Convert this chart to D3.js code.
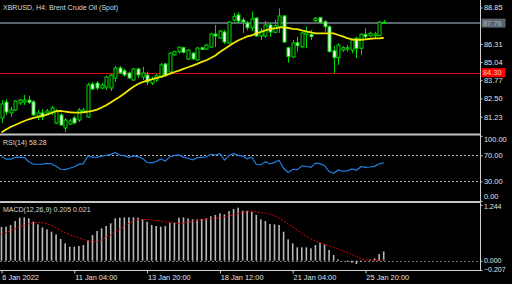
<!DOCTYPE html>
<html><head><meta charset="utf-8">
<script src="https://cdn.jsdelivr.net/npm/d3@7"></script>
<style>body{margin:0;background:#000;} svg{display:block;} text{font-family:"Liberation Sans",Arial,sans-serif;}</style>
</head><body>
<svg id="c" width="512" height="284"></svg>
<script>
// ---- data ----
const opens=[81.14,82.25,81.49,81.70,82.19,82.25,82.39,82.27,81.28,81.49,81.49,81.56,80.79,81.35,80.44,80.72,81.14,81.00,81.56,81.21,83.51,83.58,83.23,83.30,83.23,83.93,84.63,84.44,84.28,83.79,84.56,84.00,84.14,83.58,83.79,84.00,84.91,84.35,85.54,85.77,86.04,85.26,85.67,85.19,86.04,85.95,86.09,87.00,86.72,87.14,86.37,87.98,88.33,87.98,87.77,87.44,88.12,86.86,86.86,87.63,87.12,87.51,88.26,86.04,85.40,86.39,86.11,86.98,86.98,87.93,88.14,87.86,87.51,85.84,85.35,85.88,85.95,85.88,86.70,86.00,86.98,86.88,86.88,86.88,87.82];
const highs=[82.39,82.46,81.91,82.39,82.46,82.74,82.69,82.39,81.70,81.77,81.77,81.98,81.77,81.49,81.14,81.07,81.28,81.84,81.84,83.58,83.65,83.72,83.58,84.09,84.21,84.77,84.77,84.56,84.37,84.65,84.65,84.72,84.37,84.02,84.21,84.98,84.98,85.70,85.84,86.11,86.11,85.95,85.74,86.11,86.09,86.30,87.07,87.63,87.28,87.28,87.91,88.47,88.51,88.14,87.91,88.56,88.14,87.42,87.91,87.77,87.98,88.79,88.33,86.11,86.58,86.81,87.16,87.51,87.28,88.19,88.19,87.98,87.63,86.18,86.35,86.16,86.23,86.70,86.81,87.05,87.40,87.16,87.16,87.91,87.98];
const lows=[80.79,81.35,81.21,81.63,82.05,82.05,82.12,81.28,81.00,81.00,81.35,81.35,80.72,80.58,80.18,80.65,80.72,80.86,81.49,81.14,83.09,83.09,83.16,83.09,83.02,83.65,84.21,84.02,83.86,83.72,83.93,83.79,83.44,83.44,83.65,83.93,84.02,84.28,85.49,85.65,85.65,85.19,85.19,85.12,85.88,85.88,86.02,86.09,86.65,86.30,86.30,87.86,87.75,87.07,87.28,87.21,86.81,86.58,86.72,86.79,87.07,87.07,86.37,85.00,85.33,85.77,86.00,86.00,86.58,87.84,87.73,87.16,85.71,84.26,84.84,85.74,85.77,85.65,85.31,85.54,86.58,86.81,86.70,86.86,87.72];
const closes=[82.12,81.56,81.70,82.32,82.39,82.39,82.23,81.35,81.49,81.21,81.63,81.84,81.63,80.65,81.00,80.93,80.79,81.70,81.70,83.44,83.16,83.23,83.44,84.00,84.14,84.63,84.28,84.14,83.93,84.56,84.14,84.28,83.65,83.86,84.09,84.84,84.09,85.67,85.77,86.09,85.72,85.88,85.26,86.02,85.93,86.23,87.00,86.86,87.21,86.44,87.84,88.21,87.91,87.84,87.44,88.05,86.86,87.21,87.63,87.14,87.58,88.26,86.44,85.42,86.37,86.18,87.07,87.14,86.81,88.10,87.79,87.51,85.77,85.35,86.23,86.04,86.04,86.58,86.00,86.98,86.81,87.05,87.00,87.82,87.76];
const maValues=[80.13,80.34,80.51,80.65,80.79,80.93,81.05,81.14,81.21,81.29,81.38,81.49,81.61,81.63,81.59,81.54,81.52,81.52,81.54,81.59,81.63,81.73,81.87,82.03,82.22,82.43,82.62,82.85,83.09,83.32,83.51,83.65,83.74,83.83,83.93,84.01,84.12,84.22,84.35,84.45,84.57,84.68,84.80,84.92,85.05,85.17,85.33,85.50,85.74,85.95,86.16,86.37,86.55,86.69,86.83,86.90,87.04,87.14,87.25,87.34,87.40,87.45,87.48,87.42,87.36,87.34,87.25,87.18,87.11,87.05,87.05,87.05,87.05,87.04,86.93,86.83,86.72,86.62,86.60,86.60,86.63,86.67,86.69,86.70,86.74];
const rsiValues=[68,64,64.2,66.5,67.2,66.4,60,56.2,56.2,56.5,57.5,57,53,48.5,48,50,52.3,56,57.2,69,66.9,67.2,68.5,70,71.5,74,70.5,69.5,67,69,68,65,59,58.5,60.5,64.5,61.3,67.5,69.8,70.5,67.2,65.5,63,66.4,66.9,67.4,71.5,70.5,72.6,62.5,69.5,73,70,68.7,64.5,67,56.2,55.6,60.3,56.7,59.2,62.5,50,43.5,48.5,48,53.5,53.1,51.5,58,57.2,54,45,42.3,47.4,45.5,45.9,49,46.9,52.5,51.5,52,53,57,58.28];
const macdHist=[0.75,0.757,0.794,0.883,0.958,0.965,0.943,0.869,0.809,0.742,0.698,0.646,0.586,0.483,0.386,0.312,0.312,0.327,0.349,0.460,0.572,0.661,0.720,0.772,0.831,0.943,0.958,0.965,0.965,0.965,0.958,0.921,0.869,0.794,0.772,0.757,0.772,0.846,0.846,0.958,0.965,0.943,0.921,0.921,0.928,0.943,0.987,1.017,1.054,1.032,1.106,1.151,1.180,1.114,1.114,1.091,1.017,0.921,0.883,0.817,0.809,0.794,0.646,0.475,0.386,0.297,0.297,0.297,0.275,0.349,0.401,0.364,0.238,0.126,0.030,0.004,-0.022,-0.045,-0.074,-0.022,0.004,0.030,0.052,0.148,0.205];
const macdSignal=[0.585,0.625,0.665,0.71,0.755,0.79,0.822,0.84,0.852,0.845,0.823,0.79,0.73,0.675,0.625,0.575,0.54,0.505,0.47,0.44,0.423,0.423,0.46,0.53,0.57,0.64,0.70,0.77,0.83,0.883,0.91,0.92,0.916,0.91,0.895,0.88,0.862,0.846,0.84,0.832,0.842,0.86,0.878,0.895,0.91,0.92,0.93,0.944,0.958,0.978,0.998,1.02,1.044,1.068,1.092,1.10,1.09,1.075,1.058,1.03,0.995,0.95,0.88,0.82,0.75,0.68,0.61,0.54,0.487,0.436,0.40,0.365,0.33,0.29,0.26,0.22,0.18,0.135,0.092,0.045,0.01,0.005,0.008,0.015,0.021];
const priceTicks=[88.85,86.31,85.04,83.77,82.50,81.23];
const rsiTicks=[100,70,30,0];
const macdTicks=[1.244,0,-0.207];
const xTickIdx=[0,16,32,48,64,80];
const xTickLabels=["6 Jan 2022","11 Jan 04:00","13 Jan 20:00","18 Jan 12:00","21 Jan 04:00","25 Jan 20:00"];
const bidPrice=87.76, linePrice=84.30;
const title="XBRUSD, H4:  Brent Crude Oil (Spot)";

// ---- layout ----
const svg=d3.select('#c');
svg.append('rect').attr('width',512).attr('height',284).attr('fill','#000');
const W=480;
const idx=d3.range(closes.length);
const x=d3.scaleLinear().domain([0,84]).range([1.5,383.7]);
const yP=d3.scaleLinear().domain([81.23,88.85]).range([116.7,7.5]);
const yR=d3.scaleLinear().domain([0,100]).range([200.8,135.8]);
const yM=d3.scaleLinear().domain([-0.207,1.244]).range([270,204.8]);
const green="#00dc00";

const defs=svg.append('defs');
defs.append('clipPath').attr('id','cm').append('rect').attr('x',0).attr('y',0).attr('width',W).attr('height',133);
defs.append('clipPath').attr('id','cr').append('rect').attr('x',0).attr('y',136).attr('width',W).attr('height',65);
defs.append('clipPath').attr('id','cd').append('rect').attr('x',0).attr('y',203).attr('width',W).attr('height',67);

// main panel
const gm=svg.append('g').attr('clip-path','url(#cm)');
gm.append('line').attr('x1',0).attr('x2',W).attr('y1',yP(bidPrice)).attr('y2',yP(bidPrice)).attr('stroke','#5a646e').attr('stroke-width',2);
gm.append('line').attr('x1',0).attr('x2',W).attr('y1',Math.round(yP(linePrice))+0.5).attr('y2',Math.round(yP(linePrice))+0.5).attr('stroke','#e80000').attr('stroke-width',1);
const cg=gm.selectAll('g.c').data(idx).join('g');
cg.append('line').attr('x1',i=>Math.round(x(i))+0.5).attr('x2',i=>Math.round(x(i))+0.5)
  .attr('y1',i=>yP(highs[i])).attr('y2',i=>yP(lows[i])).attr('stroke',green).attr('stroke-width',1);
cg.append('rect').attr('x',i=>Math.round(x(i))-1).attr('width',3)
  .attr('y',i=>yP(Math.max(opens[i],closes[i])))
  .attr('height',i=>Math.max(0.8,Math.abs(yP(opens[i])-yP(closes[i]))))
  .attr('fill',i=>closes[i]>=opens[i]?'#000':'#ffffff')
  .attr('stroke',green).attr('stroke-width',1);
gm.append('path').datum(idx).attr('fill','none').attr('stroke','#f0e800').attr('stroke-width',1.8)
  .attr('d',d3.line().x(i=>x(i)).y(i=>yP(maValues[i])));
svg.append('text').attr('x',3).attr('y',9.5).attr('fill','#d8d8d8').attr('font-size',7).text(title);

// RSI panel
const gr=svg.append('g').attr('clip-path','url(#cr)');
[70,30].forEach(v=>gr.append('line').attr('x1',0).attr('x2',W).attr('y1',Math.round(yR(v))+0.5).attr('y2',Math.round(yR(v))+0.5)
  .attr('stroke','#bcbcbc').attr('stroke-dasharray','2,2').attr('stroke-width',1));
gr.append('path').datum(idx).attr('fill','none').attr('stroke','#1f7fe0').attr('stroke-width',1.2)
  .attr('d',d3.line().x(i=>x(i)).y(i=>yR(rsiValues[i])));
svg.append('text').attr('x',3).attr('y',145).attr('fill','#d8d8d8').attr('font-size',7).text('RSI(14) '+rsiValues[rsiValues.length-1].toFixed(2));

// MACD panel
const gd=svg.append('g').attr('clip-path','url(#cd)');
gd.append('line').attr('x1',0).attr('x2',W).attr('y1',Math.round(yM(0))+0.5).attr('y2',Math.round(yM(0))+0.5)
  .attr('stroke','#6a7386').attr('stroke-dasharray','2,2');
gd.selectAll('rect.h').data(idx).join('rect')
  .attr('x',i=>x(i)-0.8).attr('width',1.6)
  .attr('y',i=>Math.min(yM(0),yM(macdHist[i])))
  .attr('height',i=>Math.abs(yM(macdHist[i])-yM(0)))
  .attr('fill','#b8b8b8');
gd.append('path').datum(idx).attr('fill','none').attr('stroke','#e00000').attr('stroke-width',1)
  .attr('stroke-dasharray','2,1.5')
  .attr('d',d3.line().x(i=>x(i)).y(i=>yM(macdSignal[i])));
svg.append('text').attr('x',3).attr('y',211.5).attr('fill','#d8d8d8').attr('font-size',7)
  .text('MACD(12,26,9) '+macdHist[macdHist.length-1].toFixed(3)+' '+macdSignal[macdSignal.length-1].toFixed(3));

// separators & frame
svg.append('rect').attr('x',0).attr('y',133.5).attr('width',W).attr('height',2).attr('fill','#c4c4c4');
svg.append('rect').attr('x',0).attr('y',201).attr('width',W).attr('height',2).attr('fill','#c4c4c4');
svg.append('line').attr('x1',0).attr('x2',W+1).attr('y1',270.5).attr('y2',270.5).attr('stroke','#d0d0d0');
svg.append('line').attr('x1',W+0.5).attr('x2',W+0.5).attr('y1',0).attr('y2',271).attr('stroke','#d0d0d0');

// axes
function styleAxis(g,fs){
  g.select('.domain').remove();
  g.selectAll('line').attr('stroke','#d0d0d0');
  g.selectAll('text').attr('fill','#e4e4e4').attr('font-size',fs||7.4).attr('font-family','"Liberation Sans",Arial,sans-serif');
}
const aP=svg.append('g').attr('transform',`translate(${W+0.5},0)`)
  .call(d3.axisRight(yP).tickValues(priceTicks).tickSize(2).tickPadding(1.5).tickFormat(d3.format('.2f')));
styleAxis(aP);
const aR=svg.append('g').attr('transform',`translate(${W+0.5},0)`)
  .call(d3.axisRight(yR).tickValues(rsiTicks).tickSize(2).tickPadding(1.5).tickFormat(d3.format('.2f')));
styleAxis(aR);
aR.selectAll('.tick').filter(d=>d===100).select('text').attr('dy','0.75em');
aR.selectAll('.tick').filter(d=>d===0).select('text').attr('dy','-0.25em');
const aM=svg.append('g').attr('transform',`translate(${W+0.5},0)`)
  .call(d3.axisRight(yM).tickValues(macdTicks).tickSize(2).tickPadding(1.5).tickFormat(d3.format('.3f')));
styleAxis(aM,7);
aM.selectAll('.tick').filter(d=>d===1.244).select('text').attr('dy','0.55em');
aM.selectAll('.tick').filter(d=>d===0).select('text').attr('dy','0.2em');
aM.selectAll('.tick').filter(d=>d===-0.207).select('text').attr('dy','0.15em');
const aX=svg.append('g').attr('transform','translate(0,270.5)')
  .call(d3.axisBottom(x).tickValues(xTickIdx).tickSize(3).tickPadding(2).tickFormat((d,i)=>xTickLabels[i]));
styleAxis(aX);
aX.selectAll('text').attr('text-anchor','start').attr('dx','0.05em').attr('dy','0.55em');

// price labels
function priceBox(p,bg,fg){
  const yy=yP(p);
  svg.append('rect').attr('x',481.5).attr('y',yy-4.5).attr('width',24).attr('height',9).attr('fill',bg);
  svg.append('text').attr('x',483).attr('y',yy).attr('dy','0.33em').attr('fill',fg).attr('font-size',7.4).text(p.toFixed(2));
}
priceBox(bidPrice,'#5a646e','#a8b8c8');
priceBox(linePrice,'#ff0000','#ffd0d0');
</script>
</body></html>
